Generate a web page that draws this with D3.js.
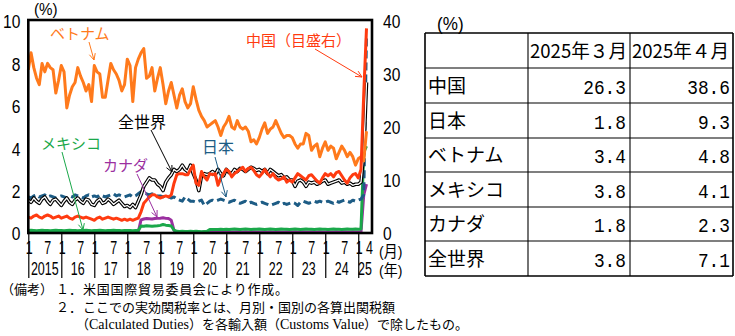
<!DOCTYPE html>
<html><head><meta charset="utf-8">
<script src="https://cdn.jsdelivr.net/npm/d3@7"></script>
<style>body{margin:0;background:#fff;} svg{display:block;}</style>
</head><body>
<svg id="c" width="735" height="336"></svg>
<script>
// ---------- DATA ----------
const years = [2015,2016,2017,2018,2019,2020,2021,2022,2023,2024,2025];
const months = [];
years.forEach(y => { for (let m = 1; m <= 12; m++) { if (y === 2025 && m > 4) break; months.push(y + "-" + m); } });

const vietnam = [
 7.7,8.5,7.8,7.3,7.0,8.0,7.6,8.0,7.8,7.7,6.6,7.2,
 7.9,7.6,5.9,6.5,6.9,7.1,7.8,7.4,7.1,6.7,7.0,6.2,
 7.9,7.6,7.5,6.4,6.4,7.2,8.0,7.7,7.5,7.2,6.7,7.0,
 8.2,7.9,6.2,7.8,8.2,8.5,8.7,7.3,7.4,7.8,6.7,7.3,
 7.8,7.0,6.1,6.7,7.1,6.5,5.9,6.5,6.8,6.2,5.9,6.1,
 6.9,6.3,5.8,5.5,5.3,5.0,5.1,5.2,5.3,5.0,4.6,5.0,
 5.2,5.5,5.0,4.9,5.3,5.0,4.9,5.0,4.8,4.3,4.4,4.2,
 4.5,4.9,5.2,4.7,4.9,5.0,5.3,5.0,4.7,4.5,4.6,4.6,
 4.5,4.2,4.0,4.2,4.2,4.7,4.6,3.9,4.1,4.2,3.6,4.0,
 4.3,3.9,4.1,4.0,3.5,3.8,4.1,3.9,3.6,3.8,3.6,3.2,
 3.5,3.6,3.4,4.8];

const world = [
 1.55,1.45,1.65,1.5,1.4,1.6,1.7,1.5,1.35,1.55,1.6,1.45,
 1.3,1.5,1.65,1.45,1.35,1.55,1.65,1.5,1.4,1.6,1.55,1.35,
 1.3,1.5,1.6,1.4,1.45,1.6,1.5,1.35,1.45,1.55,1.4,1.25,
 1.3,1.2,1.35,1.2,1.5,1.8,2.2,2.4,2.6,2.5,2.5,2.3,
 2.2,2.0,2.4,2.6,2.75,3.0,2.9,3.0,3.2,3.0,2.9,3.2,
 2.8,2.5,2.0,2.7,2.8,2.75,2.8,2.9,2.75,3.0,2.8,2.7,
 3.0,2.85,2.8,3.0,2.9,3.05,3.0,2.9,3.0,3.1,3.05,2.95,
 3.0,2.9,3.0,2.8,3.0,2.9,2.8,2.7,2.75,2.6,2.65,2.5,
 2.5,2.2,2.45,2.5,2.4,2.2,2.4,2.35,2.4,2.3,2.35,2.45,
 2.5,2.3,2.35,2.4,2.45,2.5,2.35,2.4,2.3,2.35,2.25,2.3,
 2.3,2.4,3.8,7.1];

// China is read on the right-hand axis
const china = [
 3.0,2.8,3.2,3.4,3.0,2.8,3.2,3.4,3.2,2.8,3.0,3.2,
 2.8,3.0,3.2,2.8,2.6,3.0,3.2,3.0,2.8,3.0,2.8,2.6,
 2.4,2.8,3.0,2.6,2.8,3.0,2.8,2.6,2.8,2.6,2.4,2.6,
 2.4,2.6,2.4,2.6,2.8,4.0,5.6,6.2,6.8,7.2,7.2,6.8,
 6.6,6.8,7.0,6.8,7.2,9.4,11.0,11.2,11.2,11.0,11.0,12.0,
 12.8,9.4,9.0,11.6,10.6,10.0,11.2,11.0,11.2,9.0,10.4,11.2,
 12.0,11.6,10.6,11.2,11.6,12.0,12.4,11.6,12.2,12.4,11.8,11.0,
 10.6,11.2,12.0,11.2,10.6,11.2,10.4,10.0,10.2,10.6,9.6,10.0,
 9.6,10.4,11.2,10.8,10.4,10.0,10.8,11.0,10.4,9.8,9.4,10.4,
 11.2,10.8,11.2,10.6,11.4,11.6,10.8,10.0,9.4,10.4,11.0,11.2,
 10.4,12.0,26.3,38.6];

const japan = [
 1.7,1.65,1.75,1.8,1.7,1.75,1.8,1.7,1.75,1.7,1.65,1.7,
 1.75,1.7,1.65,1.75,1.7,1.8,1.75,1.7,1.65,1.75,1.8,1.7,
 1.75,1.7,1.8,1.75,1.7,1.75,1.8,1.85,1.75,1.8,1.75,1.7,
 1.75,1.8,1.7,1.75,1.85,1.95,1.9,1.85,1.8,1.85,1.8,1.75,
 1.75,1.7,1.75,1.7,1.65,1.7,1.6,1.55,1.5,1.7,1.6,1.5,
 1.5,1.45,1.5,1.55,1.3,1.4,1.5,1.55,1.5,1.55,1.6,1.55,
 1.5,1.45,1.5,1.55,1.45,1.4,1.45,1.5,1.4,1.45,1.4,1.35,
 1.4,1.45,1.4,1.35,1.3,1.35,1.4,1.45,1.35,1.4,1.35,1.4,
 1.45,1.4,1.3,1.45,1.5,1.45,1.4,1.45,1.5,1.45,1.5,1.45,
 1.45,1.5,1.45,1.4,1.5,1.45,1.5,1.55,1.5,1.45,1.55,1.5,
 1.55,1.6,1.8,9.3];

const mexico = [
 0.12,0.13,0.12,0.11,0.12,0.13,0.12,0.12,0.11,0.12,0.13,0.12,
 0.12,0.11,0.12,0.13,0.12,0.12,0.11,0.12,0.12,0.13,0.12,0.11,
 0.12,0.12,0.13,0.12,0.11,0.12,0.12,0.13,0.12,0.12,0.11,0.12,
 0.12,0.12,0.11,0.12,0.12,0.33,0.32,0.34,0.33,0.32,0.33,0.34,
 0.36,0.40,0.37,0.35,0.33,0.14,0.08,0.07,0.08,0.07,0.07,0.08,
 0.07,0.08,0.07,0.06,0.07,0.08,0.16,0.17,0.16,0.17,0.18,0.17,
 0.18,0.17,0.18,0.19,0.18,0.17,0.18,0.19,0.18,0.17,0.18,0.18,
 0.19,0.18,0.17,0.18,0.19,0.18,0.17,0.18,0.19,0.18,0.18,0.17,
 0.18,0.19,0.18,0.17,0.18,0.19,0.18,0.18,0.17,0.18,0.19,0.18,
 0.18,0.17,0.18,0.19,0.18,0.18,0.17,0.18,0.19,0.18,0.18,0.19,
 0.18,0.19,3.8,4.1];

const canada = [
 0.04,0.05,0.04,0.04,0.05,0.04,0.04,0.05,0.04,0.04,0.05,0.04,
 0.04,0.04,0.05,0.04,0.04,0.05,0.04,0.04,0.05,0.04,0.04,0.05,
 0.04,0.05,0.04,0.04,0.05,0.04,0.04,0.05,0.04,0.04,0.05,0.04,
 0.04,0.05,0.04,0.04,0.05,0.62,0.66,0.68,0.67,0.66,0.68,0.69,
 0.70,0.72,0.69,0.68,0.60,0.12,0.04,0.04,0.05,0.04,0.04,0.05,
 0.04,0.05,0.04,0.04,0.05,0.04,0.05,0.05,0.06,0.05,0.05,0.06,
 0.05,0.06,0.05,0.05,0.06,0.05,0.05,0.06,0.05,0.05,0.06,0.05,
 0.05,0.06,0.05,0.05,0.06,0.05,0.05,0.06,0.05,0.05,0.06,0.05,
 0.05,0.06,0.05,0.05,0.06,0.05,0.05,0.06,0.05,0.05,0.06,0.05,
 0.05,0.06,0.05,0.05,0.06,0.05,0.05,0.06,0.05,0.05,0.06,0.05,
 0.05,0.05,1.8,2.3];

const leftTicks = [0,2,4,6,8,10];
const rightTicks = [0,10,20,30,40];
const monthTickIdx = [0,6,12,18,24,30,36,42,48,54,60,66,72,78,84,90,96,102,108,114,120,123];
const monthTickLabels = ["1","7","1","7","1","7","1","7","1","7","1","7","1","7","1","7","1","7","1","7","1","4"];
const yearLabels = ["2015","16","17","18","19","20","21","22","23","24","25"];

const tableRows = ["中国","日本","ベトナム","メキシコ","カナダ","全世界"];
const tableHeaders = ["2025年３月","2025年４月"];
const mar2025 = [26.3,1.8,3.4,3.8,1.8,3.8];
const apr2025 = [38.6,9.3,4.8,4.1,2.3,7.1];

// ---------- DRAW ----------
const svg = d3.select("#c");
const C = {vn:"#ff7a1c", cn:"#ff3b10", jp:"#1d5c85", mx:"#1aa84a", ca:"#9b2fa0"};
const L = 28.3, R = 372, T = 20, B = 233;

const x = d3.scaleLinear().domain([0, months.length - 1]).range([L, 366.5]);
const yL = d3.scaleLinear().domain([0, 10]).range([B, 21]);
const yR = d3.scaleLinear().domain([0, 40]).range([B, 21]);

const lineL = d3.line().x((d, i) => x(i)).y(d => yL(d));
const lineR = d3.line().x((d, i) => x(i)).y(d => yR(d));

// bottom axis (year separators)
const xAxis = svg.append("g").attr("transform", `translate(0,${B})`)
  .call(d3.axisBottom(x).tickValues(monthTickIdx.filter((d, i) => monthTickLabels[i] === "1")).tickSize(45).tickFormat(""));
xAxis.select(".domain").remove();
xAxis.selectAll("line").attr("stroke", "#000").attr("stroke-width", 1.2);

function ctext(g, tx, ty, str, anchor, size, sx, family, color, sy) {
  return g.append("text")
    .attr("transform", `translate(${tx},${ty}) scale(${sx},${sy || 1})`)
    .attr("text-anchor", anchor)
    .style("font-family", family || "'Liberation Sans', Arial, sans-serif")
    .style("font-size", size + "px")
    .attr("fill", color || "#000")
    .text(str);
}

const lab = svg.append("g");
monthTickIdx.forEach((m, i) => {
  const off = monthTickLabels[i] === "1" ? 1 : 3;
  ctext(lab, x(m) + off, 254, monthTickLabels[i], "middle", 16, 0.78, null, null, 1.15);
});
yearLabels.forEach((yl, i) => {
  const cx = i < 10 ? x(i * 12) + 16.5 : 365;
  ctext(lab, cx, 274.5, yl, "middle", 16, 0.78, null, null, 1.15);
});
ctext(lab, 379, 257, "(月)", "start", 14, 1.0, "'Liberation Sans','Noto Sans CJK JP',sans-serif", null, 1.1);
ctext(lab, 379, 276, "(年)", "start", 14, 1.0, "'Liberation Sans','Noto Sans CJK JP',sans-serif", null, 1.1);
ctext(lab, 34, 15, "(%)", "start", 16, 0.95);

// left axis
const ya = svg.append("g").attr("transform", `translate(${L},0)`)
  .call(d3.axisLeft(yL).tickValues(leftTicks).tickSize(0));
ya.select(".domain").remove();
ya.selectAll("text").attr("x", 0).attr("dy", "0.36em")
  .attr("transform", "translate(-8,0) scale(0.82,1)")
  .style("font-family", "'Liberation Sans', Arial, sans-serif").style("font-size", "19px").attr("fill", "#000");

// right axis
const yr = svg.append("g").attr("transform", `translate(${R},0)`)
  .call(d3.axisRight(yR).tickValues(rightTicks).tickSize(0));
yr.select(".domain").remove();
yr.selectAll("text").attr("x", 0).attr("dy", "0.33em").attr("text-anchor", "start")
  .attr("transform", "translate(11,0) scale(0.82,1)")
  .style("font-family", "'Liberation Sans', Arial, sans-serif").style("font-size", "19px").attr("fill", "#000");

// series
const s = svg.append("g").attr("fill", "none").attr("stroke-linejoin", "round");
s.append("path").attr("d", lineL(canada)).attr("stroke", C.ca).attr("stroke-width", 3);
s.append("path").attr("d", lineL(mexico)).attr("stroke", C.mx).attr("stroke-width", 3);
s.append("path").attr("d", lineL(japan)).attr("stroke", C.jp).attr("stroke-width", 3).attr("stroke-dasharray", "8,4");
s.append("path").attr("d", lineL(world)).attr("stroke", "#000").attr("stroke-width", 3.6);
s.append("path").attr("d", lineL(world)).attr("stroke", "#fff").attr("stroke-width", 1.3);
s.append("path").attr("d", lineL(vietnam)).attr("stroke", C.vn).attr("stroke-width", 3);
s.append("path").attr("d", lineR(china)).attr("stroke", C.cn).attr("stroke-width", 3);

// frame
svg.append("rect").attr("x", L).attr("y", T).attr("width", R - L).attr("height", B - T)
  .attr("fill", "none").attr("stroke", "#000").attr("stroke-width", 2.6);

// annotations
const jp = "'Noto Sans CJK JP', sans-serif";
function arrow(x1, y1, x2, y2, color) {
  const g = svg.append("g").attr("stroke", color).attr("stroke-width", 1).attr("fill", "none");
  g.append("line").attr("x1", x1).attr("y1", y1).attr("x2", x2).attr("y2", y2);
  const a = Math.atan2(y2 - y1, x2 - x1), h = 7;
  [0.45, -0.45].forEach(d => {
    g.append("line").attr("x1", x2).attr("y1", y2)
      .attr("x2", x2 - h * Math.cos(a + d)).attr("y2", y2 - h * Math.sin(a + d));
  });
}
function note(tx, ty, str, color, size) {
  svg.append("text").attr("x", tx).attr("y", ty).attr("fill", color)
    .style("font-family", jp).style("font-size", (size || 15) + "px").text(str);
}
note(50, 39, "ベトナム", C.vn);
arrow(89, 42, 94, 60, C.vn);
note(118, 128, "全世界", "#000", 16);
arrow(151, 130, 172, 172, "#000");
note(41, 149, "メキシコ", C.mx);
arrow(62, 152, 83, 230, C.mx);
note(103, 171, "カナダ", C.ca);
arrow(137, 174, 157, 217, C.ca);
note(202, 153, "日本", C.jp, 16);
arrow(215, 157, 226, 197, C.jp);
note(246, 46, "中国（目盛右）", C.cn);
arrow(315, 49, 362, 77, C.cn);

// table
const tX = [425, 528, 630, 733];
const tY = [33, 68, 103, 138, 172, 207, 241, 276];
const tb = svg.append("g");
ctext(tb, 437, 30, "(%)", "start", 18, 0.95);
tY.forEach((yy, i) => tb.append("line").attr("x1", tX[0]).attr("x2", tX[3]).attr("y1", yy).attr("y2", yy)
  .attr("stroke", "#000").attr("stroke-width", (i === 0 || i === tY.length - 1) ? 1.6 : 1.1));
tX.forEach((xx, i) => tb.append("line").attr("x1", xx).attr("x2", xx).attr("y1", tY[0]).attr("y2", tY[tY.length - 1])
  .attr("stroke", "#000").attr("stroke-width", (i === 0 || i === tX.length - 1) ? 1.6 : 1.1));
tableHeaders.forEach((h, i) => {
  tb.append("text").attr("x", tX[i + 1] + 2).attr("y", (tY[0] + tY[1]) / 2 + 7)
    .attr("textLength", 97).attr("lengthAdjust", "spacingAndGlyphs")
    .style("font-family", jp).style("font-size", "19px").text(h);
});
const fmt = d3.format(".1f");
tableRows.forEach((r, i) => {
  const cy = (tY[i + 1] + tY[i + 2]) / 2;
  tb.append("text").attr("x", tX[0] + 3).attr("y", cy + 7).style("font-family", jp).style("font-size", "19px").text(r);
  ctext(tb, tX[2] - 4, cy + 8, fmt(mar2025[i]), "end", 21, 0.85, "'Liberation Mono','DejaVu Sans Mono',monospace");
  ctext(tb, tX[3] - 3, cy + 8, fmt(apr2025[i]), "end", 21, 0.85, "'Liberation Mono','DejaVu Sans Mono',monospace");
});

// notes
const nt = svg.append("g").style("font-family", jp).style("font-size", "13px").attr("fill", "#000");
nt.append("text").attr("x", 1).attr("y", 294).text("（備考）");
nt.append("text").attr("x", 56).attr("y", 294).text("１．");
nt.append("text").attr("x", 83).attr("y", 294).attr("textLength", 205).attr("lengthAdjust", "spacing")
  .text("米国国際貿易委員会により作成。");
nt.append("text").attr("x", 56).attr("y", 311.5).text("２．");
nt.append("text").attr("x", 83).attr("y", 311.5).attr("textLength", 312).attr("lengthAdjust", "spacingAndGlyphs")
  .text("ここでの実効関税率とは、月別・国別の各算出関税額");
const l3 = nt.append("text").attr("x", 76).attr("y", 329);
l3.append("tspan").text("（");
l3.append("tspan").style("font-family", "'Liberation Serif', serif").style("font-size", "14px").text("Calculated Duties");
l3.append("tspan").text("）を各輸入額（");
l3.append("tspan").style("font-family", "'Liberation Serif', serif").style("font-size", "14px").text("Customs Value");
l3.append("tspan").text("）で除したもの。");
</script>
</body></html>
